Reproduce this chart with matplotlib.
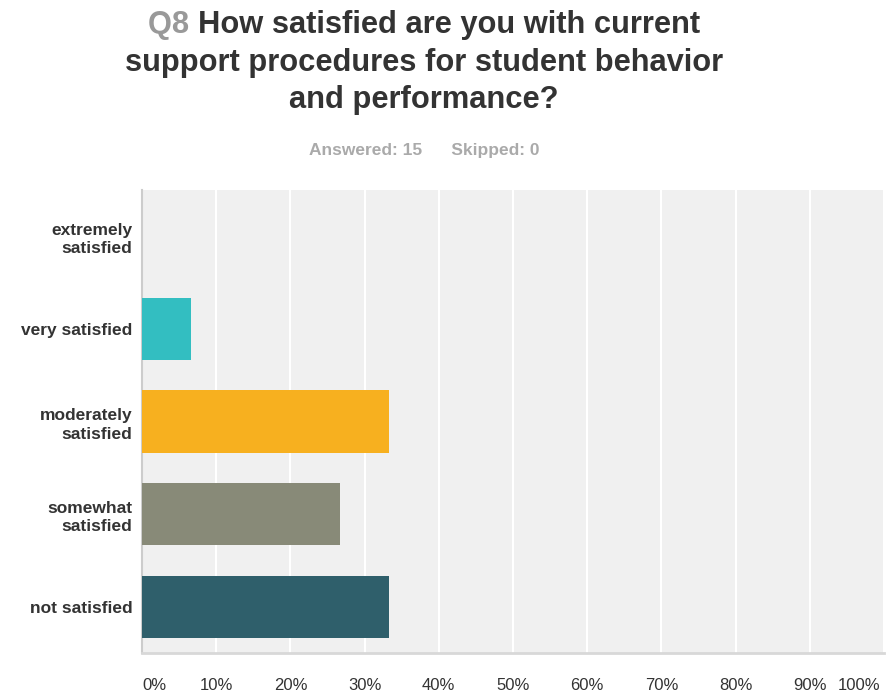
import matplotlib
matplotlib.use("Agg")
import matplotlib.pyplot as plt

# --------------------------
# Data
# --------------------------
categories = ["extremely\nsatisfied", "very satisfied", "moderately\nsatisfied",
              "somewhat\nsatisfied", "not satisfied"]
percent = [0.0, 6.67, 33.33, 26.67, 33.33]
colors = ["#4a90c0", "#33BEC1", "#F7B01F", "#888A78", "#2F5F6B"]
tick_values = [0, 10, 20, 30, 40, 50, 60, 70, 80, 90, 100]
tick_labels = [f"{v}%" for v in tick_values]

plt.rcParams["font.family"] = ["Liberation Sans", "DejaVu Sans"]

W, H = 886, 691
fig = plt.figure(figsize=(W / 100, H / 100), dpi=100)
ax = fig.add_axes([142 / W, 38 / H, 742 / W, 463 / H])

# --------------------------
# Bars
# --------------------------
ypos = list(range(len(categories)))
ax.barh(ypos, percent, height=0.67, color=colors, zorder=3)
ax.set_ylim(len(categories) - 0.5, -0.5)
ax.set_xlim(0, 100)
ax.set_facecolor("#F0F0F0")

ax.set_xticks(tick_values)
ax.set_xticklabels([])
ax.grid(axis="x", color="white", linewidth=1.5, zorder=1)
ax.tick_params(axis="both", length=0)
ax.set_yticks(ypos)
ax.set_yticklabels(categories, fontsize=12.5, fontweight="bold", color="#333333",
                   linespacing=1.3)
ax.tick_params(axis="y", pad=7)

for s in ["top", "right"]:
    ax.spines[s].set_visible(False)
ax.spines["left"].set_color("#cccccc")
ax.spines["left"].set_linewidth(1.5)
ax.spines["bottom"].set_color("#d8d8d8")
ax.spines["bottom"].set_linewidth(2)

# x tick labels: first left aligned, last right aligned
for i, (v, lab) in enumerate(zip(tick_values, tick_labels)):
    ha = "center"
    if i == 0:
        ha = "left"
    elif i == len(tick_values) - 1:
        ha = "right"
    xv = v if i < len(tick_values) - 1 else v - 0.5
    ax.text(xv, -32 / 463, lab, transform=ax.get_xaxis_transform(), ha=ha,
            va="center", fontsize=12, color="#333333")

# --------------------------
# Title
# --------------------------
renderer = fig.canvas.get_renderer()
cx = 424 / W
title_kw = dict(fontsize=22.2, fontweight="bold", va="center")
q = fig.text(0, 0, "Q8 ", color="#999999", **title_kw)
rest = fig.text(0, 0, "How satisfied are you with current", color="#333333", **title_kw)
wq = q.get_window_extent(renderer).width
wr = rest.get_window_extent(renderer).width
x0 = cx * W - (wq + wr) / 2
y1 = 1 - 25 / H
q.set_position((x0 / W, y1))
rest.set_position(((x0 + wq) / W, y1))
fig.text(cx, 1 - 63 / H, "support procedures for student behavior", ha="center",
         color="#333333", **title_kw)
fig.text(cx, 1 - 100 / H, "and performance?", ha="center", color="#333333", **title_kw)

fig.text(cx, 1 - 150 / H, "Answered: 15      Skipped: 0", ha="center", va="center",
         fontsize=12.5, fontweight="bold", color="#AAAAAA")

fig.savefig("out.png", dpi=100, facecolor="white")
